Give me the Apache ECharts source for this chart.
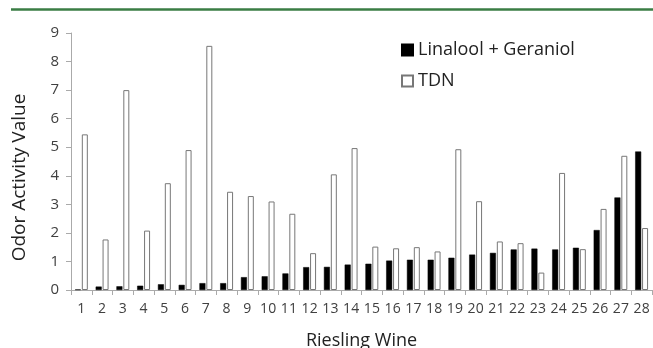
<!DOCTYPE html>
<html>
<head>
<meta charset="utf-8">
<script src="https://cdn.jsdelivr.net/npm/echarts@6/dist/echarts.min.js"></script>
<style>
  html, body { margin: 0; padding: 0; background: #fff; }
  #chart { width: 653px; height: 348px; }
</style>
</head>
<body>
<div id="chart"></div>
<script>
// wine numbers 1..28
const wines = ['1','2','3','4','5','6','7','8','9','10','11','12','13','14','15','16','17','18','19','20','21','22','23','24','25','26','27','28']
const linaloolGeraniol = [0.02,0.12,0.13,0.15,0.2,0.18,0.24,0.24,0.45,0.48,0.58,0.8,0.81,0.89,0.92,1.03,1.06,1.06,1.13,1.24,1.3,1.42,1.45,1.42,1.48,2.1,3.24,4.85]
const tdn = [5.45,1.77,7.0,2.08,3.74,4.9,8.55,3.44,3.29,3.1,2.67,1.29,4.05,4.97,1.52,1.46,1.5,1.35,4.93,3.11,1.7,1.64,0.61,4.1,1.43,2.84,4.7,2.17]
const yTicks = [0,1,2,3,4,5,6,7,8,9]

const font = 'Open Sans'
const textColor = '#404040'

let chart = echarts.init(document.getElementById('chart'))
chart.setOption({
    animation: false,
    textStyle: {fontFamily: font},
    graphic: [{
        type: 'line',
        shape: {x1: 11, y1: 9.5, x2: 653, y2: 9.5},
        style: {stroke: '#3a7d44', lineWidth: 2.5}
    }],
    grid: {left: 71, right: 1, top: 33, bottom: 58, outerBoundsMode: 'none', containLabel: false},
    legend: {
        orient: 'vertical',
        left: 396, top: 36,
        itemWidth: 11, itemHeight: 11, itemGap: 13,
        icon: 'rect',
        textStyle: {fontFamily: font, fontSize: 18, color: '#222'},
        data: ['Linalool + Geraniol', 'TDN']
    },
    xAxis: {
        type: 'category',
        data: wines,
        name: 'Riesling Wine',
        nameLocation: 'middle',
        nameGap: 42,
        nameTextStyle: {fontFamily: font, fontSize: 18, color: '#222'},
        axisLine: {lineStyle: {color: '#aaa', width: 1}},
        axisTick: {show: true, length: 5, lineStyle: {color: '#aaa'}},
        axisLabel: {fontFamily: font, fontSize: 14, color: textColor, margin: 12, interval: 0}
    },
    yAxis: {
        type: 'value',
        min: yTicks[0], max: yTicks[yTicks.length - 1], interval: 1,
        name: 'Odor Activity Value',
        nameLocation: 'middle',
        nameGap: 42,
        // title sits a bit below the plot centre in the original
        nameTextStyle: {fontFamily: font, fontSize: 19, color: '#222', padding: [0, 32, 0, 0]},
        axisLine: {show: true, lineStyle: {color: '#aaa', width: 1}},
        axisTick: {show: true, length: 5, inside: false, lineStyle: {color: '#aaa'}},
        axisLabel: {fontFamily: font, fontSize: 15, color: textColor, margin: 12},
        splitLine: {show: false}
    },
    series: [{
        name: 'Linalool + Geraniol',
        type: 'bar',
        data: linaloolGeraniol,
        barWidth: 6,
        barGap: '15%',
        itemStyle: {color: '#000', borderColor: '#000', borderWidth: 0.5}
    }, {
        name: 'TDN',
        type: 'bar',
        data: tdn,
        barWidth: 6,
        itemStyle: {color: '#fff', borderColor: '#777', borderWidth: 1}
    }]
})
</script>
</body>
</html>
